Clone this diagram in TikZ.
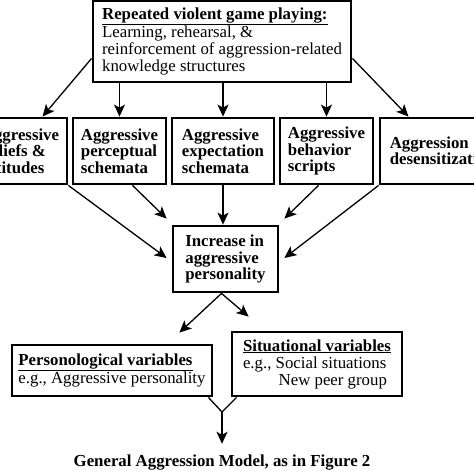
\documentclass[tikz,border=0pt]{standalone}
\usepackage{fontspec}
\setmainfont{Liberation Serif}
\usepackage{tikz}
\usetikzlibrary{arrows.meta, calc}

\tikzset{
    box/.style={draw, line width=2.8pt, rectangle, align=left, inner sep=0pt,
        font=\fontsize{16.8}{17}\selectfont},
    bbox/.style={box, font=\fontsize{16.8}{16.4}\selectfont\bfseries, minimum height=66pt},
    arr/.style={line width=1.3pt, -{Stealth[length=12pt, width=11pt, inset=3pt]}}
}

\begin{document}
\begin{tikzpicture}[x=1pt, y=-1pt]
            \useasboundingbox (0,0) rectangle (474,474);
            \clip (0,0) rectangle (474,474);

            % Source box
            \node[box, minimum width=258pt, minimum height=81pt] (game) at (222,41.5)
                {\textbf{\underline{Repeated violent game playing:}}\\
                 Learning, rehearsal, \&\\
                 reinforcement of aggression-related\\
                 knowledge structures};

            % Knowledge structures
            \node[bbox, minimum width=93pt] (beliefs) at (20.5,151) {Aggressive\\beliefs \&\\attitudes};
            \node[bbox, minimum width=93pt] (percept) at (119.5,151) {Aggressive\\perceptual\\schemata};
            \node[bbox, minimum width=102pt] (expect) at (223,151) {Aggressive\\expectation\\schemata};
            \node[bbox, minimum width=93pt] (scripts) at (326.5,151) {Aggressive\\behavior\\scripts};
            \node[bbox, minimum width=125pt] (desens) at (442.5,151) {Aggression\\desensitization};

            % Personality
            \node[bbox, minimum width=105pt] (pers) at (225.5,259) {Increase in\\aggressive\\personality};

            % Variables
            \node[box, minimum width=200pt, minimum height=51pt] (persvar) at (112,370.5)
                {\textbf{\underline{Personological variables}}\\
                 e.g., Aggressive personality};
            \node[box, minimum width=170pt, minimum height=64pt] (sitvar) at (317,364)
                {\textbf{\underline{Situational variables}}\\
                 e.g., Social situations\\
                 \hphantom{e.g., }\hspace{3pt}New peer group};

            % Caption
            \node[font=\fontsize{16.8}{17}\selectfont\bfseries] (gam) at (222,463)
                {General Aggression Model, as in Figure 2};

            % Arrows from game box
            \draw[arr] ([yshift=25pt]game.south west) -- ([xshift=22pt]beliefs.north);
            \draw[arr] (game.south -| percept.north) -- (percept.north);
            \draw[arr] (game.south -| expect.north) -- (expect.north);
            \draw[arr] (game.south -| scripts.north) -- (scripts.north);
            \draw[arr] ([yshift=25pt]game.south east) -- ([xshift=-34pt]desens.north);

            % Arrows into personality
            \draw[arr] (beliefs.south east) -- ([shift={(-5pt,1pt)}]pers.west);
            \draw[arr] ([xshift=13pt]percept.south) -- ([shift={(-5pt,6pt)}]pers.north west);
            \draw[arr] (expect.south) -- (expect.south |- pers.north);
            \draw[arr] ([xshift=-8pt]scripts.south) -- ([shift={(5pt,6pt)}]pers.north east);
            \draw[arr] (desens.south west) -- ([shift={(5pt,1pt)}]pers.east);

            % Arrows to variables
            \draw[arr] ([xshift=-4pt]pers.south) -- ([shift={(-34pt,11pt)}]persvar.north east);
            \draw[arr] ([xshift=-4pt]pers.south) -- ([shift={(18pt,14pt)}]sitvar.north west);

            % Merge
            \coordinate (merge) at (222,412);
            \draw[line width=1.3pt] ([xshift=-5pt]persvar.south east) -- (merge) -- ([xshift=6pt]sitvar.south west);
            \draw[arr] (merge) -- ([yshift=8pt]gam.north);
\end{tikzpicture}
\end{document}
